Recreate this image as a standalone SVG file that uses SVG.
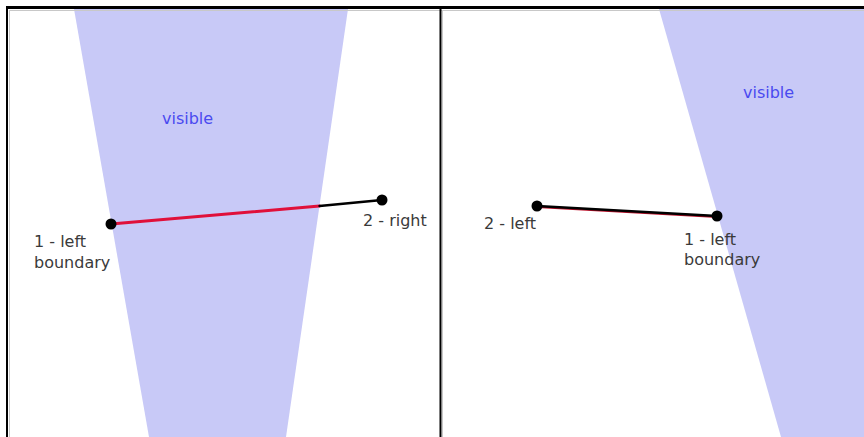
<svg xmlns="http://www.w3.org/2000/svg" width="864" height="437" viewBox="0 0 864 437">
<style>
.vis{fill:#c8c9f7;stroke:none}
.lbl{font-family:"DejaVu Sans",sans-serif;font-size:16px;fill:#3a3a3a}
.vt{font-family:"DejaVu Sans",sans-serif;font-size:16px;fill:#4a4af0}
.dot{fill:#000}
</style>
<rect width="864" height="437" fill="#fff"/>
<g id="left-panel">
<polygon class="vis" points="74,9 348,9 286,437 149,437"/>
<text class="vt" x="162" y="124">visible</text>
</g>
<g id="right-panel">
<polygon class="vis" points="659,9 864,9 864,437 781,437"/>
<text class="vt" x="743" y="98">visible</text>
</g>
<g id="frame" fill="none">
<line x1="9" y1="10.5" x2="864" y2="10.5" stroke="#c8c8c8" stroke-width="1"/>
<line x1="9.5" y1="10" x2="9.5" y2="437" stroke="#c8c8c8" stroke-width="1"/>
<line x1="442.5" y1="10" x2="442.5" y2="437" stroke="#c8c8c8" stroke-width="1"/>
<line x1="6" y1="7.5" x2="864" y2="7.5" stroke="#000" stroke-width="3"/>
<line x1="7" y1="6" x2="7" y2="437" stroke="#000" stroke-width="2"/>
<line x1="440.5" y1="6" x2="440.5" y2="437" stroke="#000" stroke-width="2"/>
</g>
<g id="connectors" fill="none" stroke-linecap="round">
<line x1="111" y1="224" x2="319.5" y2="206" stroke="#e0103a" stroke-width="3"/>
<line x1="319.5" y1="206" x2="382" y2="200" stroke="#000" stroke-width="2.5"/>
<line x1="537" y1="206.7" x2="717" y2="216.7" stroke="#c0102a" stroke-width="2.5"/>
<line x1="537" y1="206" x2="717" y2="216" stroke="#000" stroke-width="2.5"/>
</g>
<g id="node-l1">
<circle class="dot" cx="111" cy="224" r="5.5"/>
<text class="lbl" x="34" y="247">1 - left</text>
<text class="lbl" x="34" y="268">boundary</text>
</g>
<g id="node-l2">
<circle class="dot" cx="382" cy="200" r="5.5"/>
<text class="lbl" x="363" y="226">2 - right</text>
</g>
<g id="node-r2">
<circle class="dot" cx="537" cy="206" r="5.5"/>
<text class="lbl" x="484" y="229">2 - left</text>
</g>
<g id="node-r1">
<circle class="dot" cx="717" cy="216" r="5.5"/>
<text class="lbl" x="684" y="245">1 - left</text>
<text class="lbl" x="684" y="265">boundary</text>
</g>
</svg>
